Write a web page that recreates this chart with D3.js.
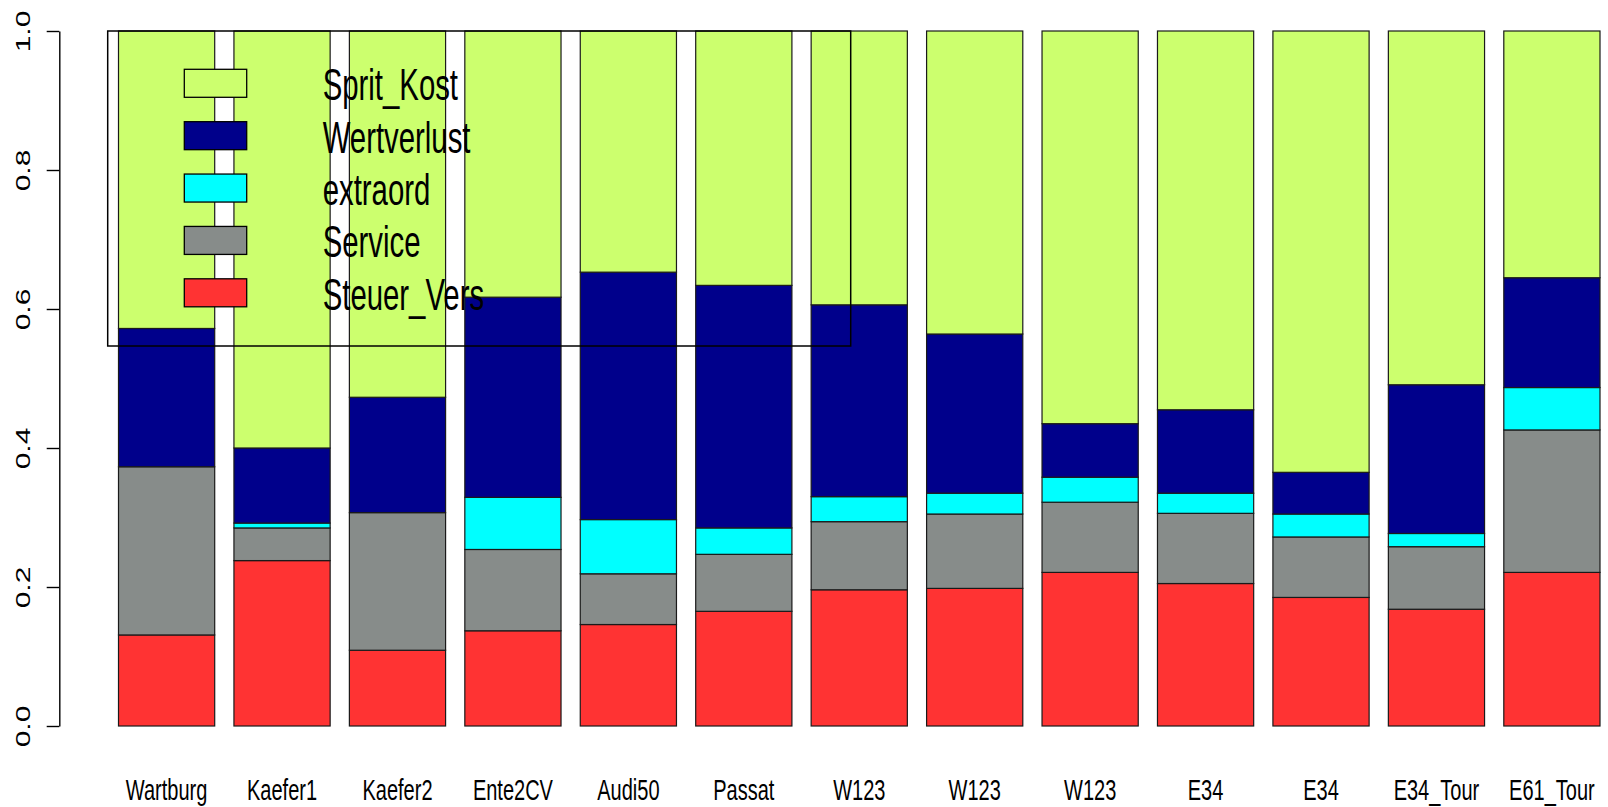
<!DOCTYPE html>
<meta charset="utf-8">
<style>
body { margin: 0; background: #fff; }
svg { display: block; font-family: "Liberation Sans", Arial, sans-serif; }
.axis--x path { display: none; }
</style>
<svg width="1608" height="807"></svg>
<script src="https://cdn.jsdelivr.net/npm/d3@7"></script>
<script>

// cars (some names repeat, so bars are keyed by index)
var cars = ["Wartburg", "Kaefer1", "Kaefer2", "Ente2CV", "Audi50", "Passat",
            "W123", "W123", "W123", "E34", "E34", "E34_Tour", "E61_Tour"];

// cost shares per car, bottom to top
var steuerVers  = [0.131, 0.238, 0.109, 0.137, 0.146, 0.165, 0.196, 0.198, 0.221, 0.205, 0.185, 0.168, 0.221];
var service     = [0.242, 0.047, 0.198, 0.117, 0.073, 0.082, 0.098, 0.107, 0.101, 0.101, 0.087, 0.090, 0.205];
var extraord    = [0.000, 0.007, 0.000, 0.075, 0.078, 0.038, 0.036, 0.030, 0.036, 0.029, 0.033, 0.019, 0.061];
var wertverlust = [0.199, 0.108, 0.166, 0.288, 0.356, 0.349, 0.276, 0.229, 0.077, 0.120, 0.060, 0.214, 0.158];
var spritKost   = [0.428, 0.600, 0.527, 0.383, 0.347, 0.366, 0.394, 0.436, 0.565, 0.545, 0.635, 0.509, 0.355];

var yTicks = [0, 0.2, 0.4, 0.6, 0.8, 1.0];

var keys = ["Steuer_Vers", "Service", "extraord", "Wertverlust", "Sprit_Kost"];
var colors = {
  "Steuer_Vers": "#ff3333",
  "Service": "#878c8a",
  "extraord": "#00ffff",
  "Wertverlust": "#00008b",
  "Sprit_Kost": "#ccff6e"
};

var rows = cars.map(function(c, i) {
  return {
    idx: i,
    "Steuer_Vers": steuerVers[i],
    "Service": service[i],
    "extraord": extraord[i],
    "Wertverlust": wertverlust[i],
    "Sprit_Kost": spritKost[i]
  };
});

var svg = d3.select("svg");
var sx = 0.667; // the picture is squeezed sideways, text too

var x = d3.scaleBand()
    .domain(d3.range(cars.length))
    .range([118.5, 1600])
    .paddingInner(1 / 6)
    .paddingOuter(0);

var y = d3.scaleLinear()
    .domain([0, 1])
    .range([726, 31]);

var series = d3.stack().keys(keys)(rows);

svg.append("g")
  .selectAll("g")
  .data(series)
  .enter().append("g")
    .attr("fill", function(d) { return colors[d.key]; })
  .selectAll("rect")
  .data(function(d) { return d; })
  .enter().append("rect")
    .attr("x", function(d) { return x(d.data.idx); })
    .attr("y", function(d) { return y(d[1]); })
    .attr("width", x.bandwidth())
    .attr("height", function(d) { return y(d[0]) - y(d[1]); })
    .attr("stroke", "#1a1a1a")
    .attr("stroke-width", 1.2);

// y axis
var yAxis = svg.append("g")
    .attr("transform", "translate(59.3,0)")
    .call(d3.axisLeft(y).tickValues(yTicks).tickSize(12.6).tickSizeOuter(0)
      .tickFormat(d3.format(".1f")));

yAxis.select(".domain").attr("stroke", "#000").attr("stroke-width", 1.4);
yAxis.selectAll(".tick line").attr("stroke", "#000").attr("stroke-width", 1.4);
yAxis.selectAll(".tick text")
    .attr("x", null).attr("dy", null)
    .attr("text-anchor", "middle")
    .attr("font-size", 30)
    .attr("fill", "#000")
    .attr("transform", "translate(-29.5,0) scale(" + sx + ",1) rotate(-90)");

// car names
var xAxis = svg.append("g")
    .attr("class", "axis axis--x")
    .call(d3.axisBottom(x).tickSize(0).tickFormat(function(i) { return cars[i]; }));

xAxis.selectAll(".tick text")
    .attr("y", null).attr("dy", null)
    .attr("font-size", 30)
    .attr("fill", "#000")
    .attr("transform", "translate(0,800) scale(" + sx + ",1)");

// legend
var legendKeys = keys.slice().reverse();
var ly = d3.scalePoint()
    .domain(legendKeys)
    .range([83.3, 292.8]);

var legend = svg.append("g");

legend.append("rect")
    .attr("x", 107.7)
    .attr("y", y(1))
    .attr("width", 850.7 - 107.7)
    .attr("height", 346 - y(1))
    .attr("fill", "none")
    .attr("stroke", "#000")
    .attr("stroke-width", 1.5);

legend.selectAll(".swatch")
  .data(legendKeys)
  .enter().append("rect")
    .attr("class", "swatch")
    .attr("x", 184.3)
    .attr("y", function(d) { return ly(d) - 14; })
    .attr("width", 62.4)
    .attr("height", 28)
    .attr("fill", function(d) { return colors[d]; })
    .attr("stroke", "#000")
    .attr("stroke-width", 1.3);

legend.selectAll(".label")
  .data(legendKeys)
  .enter().append("text")
    .attr("class", "label")
    .attr("font-size", 44)
    .attr("fill", "#000")
    .attr("transform", function(d) {
      return "translate(322.7," + (ly(d) + 17) + ") scale(" + sx + ",1)";
    })
    .text(function(d) { return d; });

</script>
